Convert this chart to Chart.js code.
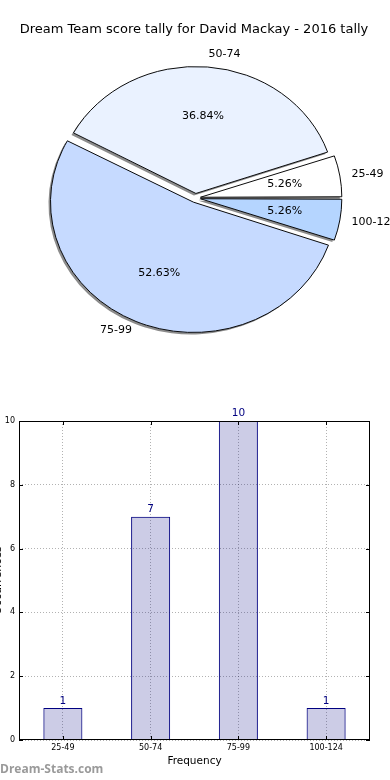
<!DOCTYPE html>
<html>
<head>
<meta charset="utf-8">
<script src="https://cdn.jsdelivr.net/npm/chart.js@4.4.0/dist/chart.umd.min.js"></script>
<style>
  body { margin: 0; background: #fff; }
  #wrap { position: relative; width: 390px; height: 780px; overflow: hidden; }
  .box { position: absolute; left: 0; width: 390px; height: 390px; }
</style>
</head>
<body>
<div id="wrap">
  <div class="box" style="top:0"><canvas id="pieChart" width="390" height="390"></canvas></div>
  <div class="box" style="top:390px"><canvas id="barChart" width="390" height="390"></canvas></div>
</div>
<script>
const chartTitle = 'Dream Team score tally for David Mackay - 2016 tally';
const scoreRanges = ['25-49', '50-74', '75-99', '100-124'];
const scoreCounts = [1, 7, 10, 1];
const pieColors = ['#ffffff', '#eaf2ff', '#c6daff', '#b5d5ff'];
const yTicks = [0, 2, 4, 6, 8, 10];
const xAxisTitle = 'Frequency';
const yAxisTitle = 'Occurrences';
const watermark = 'Dream-Stats.com';

const FONT = 'DejaVu Sans';
const squash = 0.911; // the pie is drawn a bit flattened, like the original

// chart.js goes clockwise, the original goes counter clockwise from 3 o'clock
const pieLabels = scoreRanges.slice().reverse();
const pieValues = scoreCounts.slice().reverse();
const pieFill = pieColors.slice().reverse();

function flatten(ctx, arc) {
  ctx.translate(arc.x, arc.y);
  ctx.scale(1, squash);
  ctx.translate(-arc.x, -arc.y);
}

const pieExtras = {
  id: 'pieExtras',
  beforeDatasetsDraw(chart) {
    const ctx = chart.ctx;
    const arcs = chart.getDatasetMeta(0).data;
    // shadow pass: fills only, no border
    ctx.save();
    flatten(ctx, arcs[0]);
    ctx.shadowColor = '#8c8c8c';
    ctx.shadowOffsetX = -2;
    ctx.shadowOffsetY = 2;
    arcs.forEach(arc => {
      const bw = arc.options.borderWidth;
      arc.options.borderWidth = 0;
      arc.draw(ctx);
      arc.options.borderWidth = bw;
    });
    ctx.restore();
    // normal pass, flattened
    ctx.save();
    flatten(ctx, arcs[0]);
  },
  afterDatasetsDraw(chart) {
    const ctx = chart.ctx;
    ctx.restore();
    const meta = chart.getDatasetMeta(0);
    const total = pieValues.reduce((a, b) => a + b, 0);
    ctx.save();
    ctx.fillStyle = '#000';
    ctx.font = '11px "' + FONT + '"';
    ctx.textBaseline = 'middle';
    meta.data.forEach((arc, i) => {
      const mid = (arc.startAngle + arc.endAngle) / 2;
      const shift = (arc.options.offset || 0) / 4;
      const R = arc.outerRadius;
      const at = k => ({
        x: arc.x + Math.cos(mid) * (shift + R * k),
        y: arc.y + Math.sin(mid) * (shift + R * k) * squash
      });
      const p = at(0.62);
      ctx.textAlign = 'center';
      ctx.fillText((pieValues[i] / total * 100).toFixed(2) + '%', p.x, p.y);
      const l = at(1.11);
      ctx.textAlign = Math.cos(mid) >= 0 ? 'left' : 'right';
      ctx.fillText(pieLabels[i], l.x, l.y);
    });
    ctx.font = '13px "' + FONT + '"';
    ctx.textAlign = 'center';
    ctx.fillText(chartTitle, 194, 30);
    ctx.restore();
  }
};

new Chart(document.getElementById('pieChart'), {
  type: 'pie',
  data: {
    labels: pieLabels,
    datasets: [{
      data: pieValues,
      backgroundColor: pieFill,
      borderColor: '#000',
      borderWidth: 1,
      offset: 20
    }]
  },
  options: {
    responsive: false,
    animation: false,
    rotation: 90,
    radius: 138,
    layout: { padding: { top: 6, left: 1, right: 0, bottom: 0 } },
    plugins: { legend: { display: false }, tooltip: { enabled: false } }
  },
  plugins: [pieExtras]
});

const barExtras = {
  id: 'barExtras',
  afterDatasetsDraw(chart) {
    const ctx = chart.ctx;
    const area = chart.chartArea;
    const xs = chart.scales.x, ys = chart.scales.y;
    ctx.save();
    // frame
    ctx.strokeStyle = '#000';
    ctx.lineWidth = 1;
    ctx.strokeRect(Math.round(area.left) + 0.5, Math.round(area.top) + 0.5,
      Math.round(area.right - area.left) - 1, Math.round(area.bottom - area.top) - 1);
    // inward tick marks
    ctx.beginPath();
    yTicks.forEach(v => {
      const y = Math.round(ys.getPixelForValue(v)) + 0.5;
      ctx.moveTo(area.left, y); ctx.lineTo(area.left + 4, y);
      ctx.moveTo(area.right, y); ctx.lineTo(area.right - 4, y);
    });
    scoreRanges.forEach((c, i) => {
      const x = Math.round(xs.getPixelForValue(i)) + 0.5;
      ctx.moveTo(x, area.top); ctx.lineTo(x, area.top + 4);
      ctx.moveTo(x, area.bottom); ctx.lineTo(x, area.bottom - 4);
    });
    ctx.stroke();
    // values above bars
    ctx.fillStyle = '#000080';
    ctx.font = '10.5px "' + FONT + '"';
    ctx.textAlign = 'center';
    ctx.textBaseline = 'bottom';
    chart.getDatasetMeta(0).data.forEach((bar, i) => {
      ctx.fillText(String(scoreCounts[i]), bar.x, bar.y - 2);
    });
    // y title, mostly cut off at the left edge like the original
    ctx.fillStyle = '#000';
    ctx.font = '11px "' + FONT + '"';
    ctx.translate(0.5, (area.top + area.bottom) / 2);
    ctx.rotate(-Math.PI / 2);
    ctx.textBaseline = 'alphabetic';
    ctx.fillText(yAxisTitle, 0, 0);
    ctx.restore();
    // watermark
    ctx.save();
    ctx.fillStyle = '#9a9a9a';
    ctx.font = 'bold 12px "Open Sans"';
    ctx.textAlign = 'left';
    ctx.textBaseline = 'middle';
    ctx.fillText(watermark, 0, 380);
    ctx.restore();
  }
};

new Chart(document.getElementById('barChart'), {
  type: 'bar',
  data: {
    labels: scoreRanges,
    datasets: [{
      data: scoreCounts,
      backgroundColor: 'rgba(0,0,128,0.2)',
      borderColor: '#000080',
      borderWidth: 1,
      barPercentage: 0.445,
      categoryPercentage: 1
    }]
  },
  options: {
    responsive: false,
    animation: false,
    layout: { padding: { top: 31, right: 20, left: 0, bottom: 0 } },
    plugins: { legend: { display: false }, tooltip: { enabled: false } },
    scales: {
      x: {
        grid: { offset: false, color: 'rgba(0,0,0,0.3)', drawTicks: false },
        border: { display: false, dash: [1, 2] },
        ticks: { color: '#000', font: { family: FONT, size: 8 }, padding: 3, maxRotation: 0 },
        title: { display: true, text: xAxisTitle, color: '#000', font: { family: FONT, size: 10.5 }, padding: { top: 0, bottom: 12 } },
        afterFit(s) { s.height = 40; }
      },
      y: {
        min: 0,
        max: 10,
        afterBuildTicks(s) { s.ticks = yTicks.map(v => ({ value: v })); },
        grid: { color: 'rgba(0,0,0,0.3)', drawTicks: false },
        border: { display: false, dash: [1, 2] },
        ticks: { color: '#000', font: { family: FONT, size: 8 }, padding: 4 },
        afterFit(s) { s.width = 19; }
      }
    }
  },
  plugins: [barExtras]
});
</script>
</body>
</html>
